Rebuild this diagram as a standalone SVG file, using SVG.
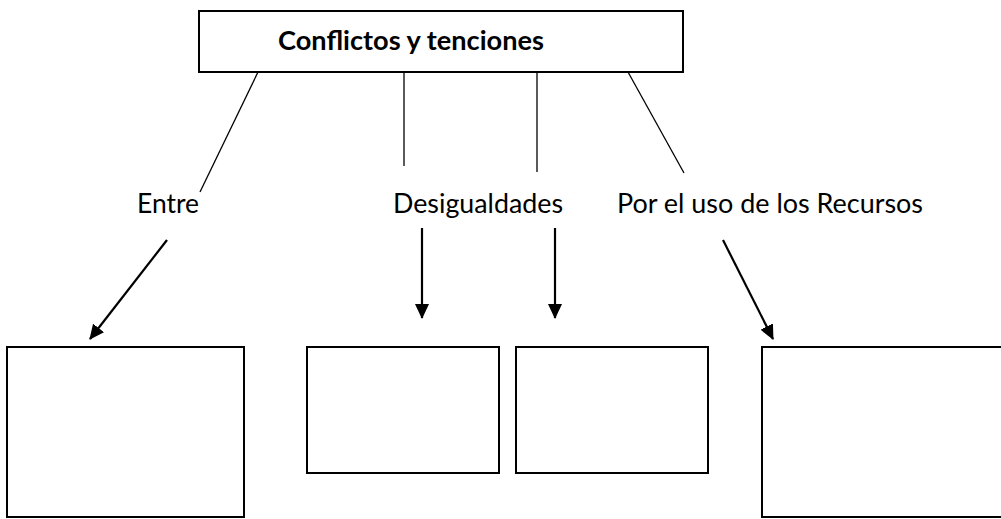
<svg xmlns="http://www.w3.org/2000/svg" width="1001" height="519" viewBox="0 0 1001 519">
<style>
.box{fill:#fff;stroke:#000;stroke-width:2}
.ln{stroke:#000;stroke-width:1.3;fill:none}
.ar{stroke:#000;stroke-width:2.2;fill:none}
.t{font-family:Lato,"Open Sans","Liberation Sans",sans-serif;font-size:26px;fill:#000}
.tb{font-weight:bold}
</style>
<defs>
<marker id="ah" viewBox="0 0 15 14" refX="14" refY="7" markerWidth="15" markerHeight="14" markerUnits="userSpaceOnUse" orient="auto">
<path d="M0,0 L15,7 L0,14 Z" fill="#000"/>
</marker>
</defs>
<rect width="1001" height="519" fill="#fff"/>
<g id="connectors">
<line class="ln" x1="258" y1="72" x2="200" y2="192"/>
<line class="ln" x1="404" y1="72" x2="404" y2="166"/>
<line class="ln" x1="537" y1="72" x2="537" y2="172"/>
<line class="ln" x1="628" y1="72" x2="684" y2="173"/>
<line class="ar" x1="167" y1="240" x2="90" y2="339" marker-end="url(#ah)"/>
<line class="ar" x1="422" y1="228" x2="422" y2="318" marker-end="url(#ah)"/>
<line class="ar" x1="555" y1="228" x2="555" y2="318" marker-end="url(#ah)"/>
<line class="ar" x1="723" y1="240" x2="773" y2="339" marker-end="url(#ah)"/>
</g>
<g id="title">
<rect class="box" x="199" y="11" width="484" height="61"/>
<text class="t tb" x="278" y="50" textLength="266" lengthAdjust="spacingAndGlyphs">Conflictos y tenciones</text>
</g>
<g id="label-entre"><text class="t" x="137" y="213" textLength="62" lengthAdjust="spacingAndGlyphs">Entre</text></g>
<g id="label-desigualdades"><text class="t" x="393" y="213" textLength="170" lengthAdjust="spacingAndGlyphs">Desigualdades</text></g>
<g id="label-recursos"><text class="t" x="617" y="213" textLength="306" lengthAdjust="spacingAndGlyphs">Por el uso de los Recursos</text></g>
<g id="box1"><rect class="box" x="7" y="347" width="237" height="170"/></g>
<g id="box2"><rect class="box" x="307" y="347" width="192" height="126"/></g>
<g id="box3"><rect class="box" x="516" y="347" width="192" height="126"/></g>
<g id="box4"><rect class="box" x="762" y="347" width="245" height="170"/></g>
</svg>
